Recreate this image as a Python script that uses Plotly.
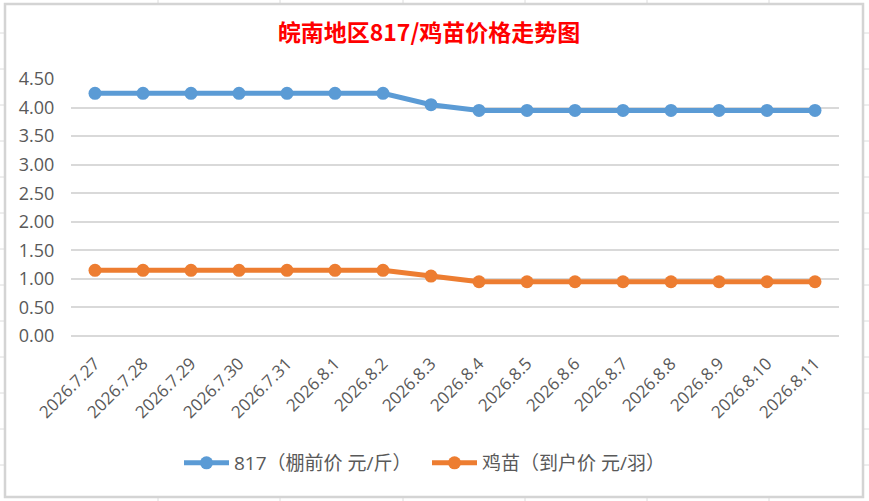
import plotly.graph_objects as go

dates = ["2026.7.27", "2026.7.28", "2026.7.29", "2026.7.30", "2026.7.31", "2026.8.1",
         "2026.8.2", "2026.8.3", "2026.8.4", "2026.8.5", "2026.8.6", "2026.8.7",
         "2026.8.8", "2026.8.9", "2026.8.10", "2026.8.11"]
price_817 = [4.25, 4.25, 4.25, 4.25, 4.25, 4.25, 4.25, 4.05, 3.95, 3.95, 3.95, 3.95,
             3.95, 3.95, 3.95, 3.95]
price_chick = [1.15, 1.15, 1.15, 1.15, 1.15, 1.15, 1.15, 1.05, 0.95, 0.95, 0.95, 0.95,
               0.95, 0.95, 0.95, 0.95]
y_ticks = [0, 0.5, 1.0, 1.5, 2.0, 2.5, 3.0, 3.5, 4.0, 4.5]

W, H = 869, 501
L, T = 71, 79
PW, PH = 768, 257
R, B = W - L - PW, H - T - PH


def px(x):
    return (x - L) / PW


def py(y):
    return (T + PH - y) / PH


fig = go.Figure()
fig.add_trace(go.Scatter(x=dates, y=price_817, mode="lines+markers",
                         name="817（棚前价 元/斤）",
                         line=dict(color="#5B9BD5", width=5),
                         marker=dict(color="#5B9BD5", size=13)))
fig.add_trace(go.Scatter(x=dates, y=price_chick, mode="lines+markers",
                         name="鸡苗（到户价 元/羽）",
                         line=dict(color="#ED7D31", width=5),
                         marker=dict(color="#ED7D31", size=13)))

shapes = []
grid_col = "#dcdcdc"
for gx in [158, 280, 403, 525, 647, 769]:
    shapes.append(dict(type="line", xref="paper", yref="paper", x0=px(gx), x1=px(gx),
                       y0=py(0), y1=py(H), line=dict(color=grid_col, width=1), layer="below"))
for gy in [33, 69, 105, 141, 177, 213, 249, 285, 321, 357, 393, 429, 465]:
    shapes.append(dict(type="line", xref="paper", yref="paper", x0=px(0), x1=px(W),
                       y0=py(gy), y1=py(gy), line=dict(color=grid_col, width=1), layer="below"))
shapes.append(dict(type="rect", xref="paper", yref="paper", x0=px(5), x1=px(863),
                   y0=py(497), y1=py(4), fillcolor="white",
                   line=dict(color="#d4d4d4", width=2.5), layer="below"))

fig.update_layout(
    width=W, height=H,
    margin=dict(l=L, r=R, t=T, b=B),
    paper_bgcolor="white",
    plot_bgcolor="rgba(0,0,0,0)",
    shapes=shapes,
    title=dict(text="<b>皖南地区817/鸡苗价格走势图</b>", x=429 / W, xanchor="center",
               y=1 - 33 / H, yanchor="middle",
               font=dict(family="Noto Sans CJK SC", size=23, color="#FF0000")),
    font=dict(family="Open Sans, Noto Sans CJK SC", color="#595959"),
    xaxis=dict(type="category", tickangle=-45, showgrid=False, showline=False,
               ticks="outside", ticklen=10, tickcolor="rgba(0,0,0,0)",
               tickfont=dict(size=17, color="#595959"),
               range=[-0.5, len(dates) - 0.5]),
    yaxis=dict(range=[0, 4.5], tickvals=y_ticks, tickformat=".2f",
               showgrid=True, gridcolor="#d9d9d9", gridwidth=1.5,
               zeroline=True, zerolinecolor="#d9d9d9", zerolinewidth=1.5,
               showline=False, ticks="outside", ticklen=12, tickcolor="rgba(0,0,0,0)",
               tickfont=dict(size=18, color="#595959")),
    legend=dict(orientation="h", x=px(427), xanchor="center", y=py(463), yanchor="middle",
                font=dict(family="Open Sans, Noto Sans CJK SC", size=19, color="#595959"),
                bgcolor="rgba(0,0,0,0)", itemwidth=45, entrywidth=188),
    showlegend=True,
)

fig.write_html("out.html", config={"displayModeBar": False},
               post_script="document.body.style.margin='0';document.body.style.overflow='hidden';")
